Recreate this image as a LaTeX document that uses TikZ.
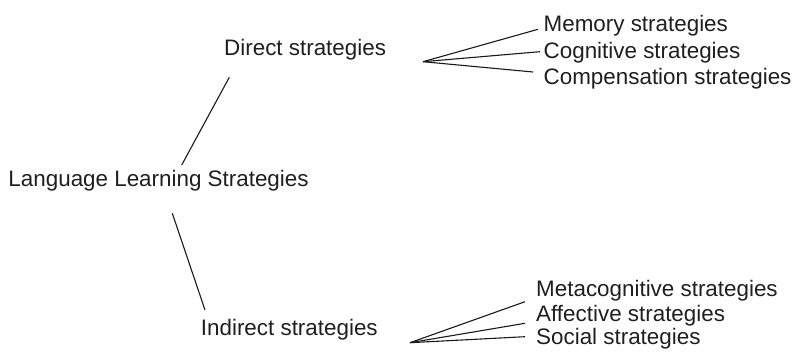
\documentclass[tikz,border=0pt]{standalone}
\usepackage{fontspec}
\setmainfont{Liberation Sans}
\usetikzlibrary{calc}
\begin{document}
\begin{tikzpicture}[x=1pt,y=-1pt,
  lbl/.style={anchor=base west, inner sep=0pt, font=\fontsize{22.4}{26}\selectfont, text=black!88},
  link/.style={line width=1.1pt, black!90}]
\useasboundingbox (0,0) rectangle (793,355);
\node[lbl] (root) at (8.3,186.7) {Language Learning Strategies};
\node[lbl] (direct) at (224,56) {Direct strategies};
\node[lbl] (indirect) at (200.7,336) {Indirect strategies};
\node[lbl] (mem) at (543.5,31.7) {Memory strategies};
\node[lbl] (cog) at (543.5,58.3) {Cognitive strategies};
\node[lbl] (comp) at (543.5,84.5) {Compensation strategies};
\node[lbl] (meta) at (536,296.5) {Metacognitive strategies};
\node[lbl] (aff) at (536,321.5) {Affective strategies};
\node[lbl] (soc) at (536,345) {Social strategies};
\coordinate (dfan) at ($(direct.base west)+(199,5.7)$);
\coordinate (ifan) at ($(indirect.base west)+(209.3,6.7)$);
\draw[link] ($(root.base west)+(173.4,-21.7)$) -- ($(direct.base west)+(5.3,21.3)$);
\draw[link] ($(root.base west)+(164,26.6)$) -- ($(indirect.base west)+(4.3,-26)$);
\draw[link] (dfan) -- ($(mem.base west)+(-5.5,-2.4)$);
\draw[link] (dfan) -- ($(cog.base west)+(-3.5,-6.6)$);
\draw[link] (dfan) -- ($(comp.base west)+(-10.5,-12.5)$);
\draw[link] (ifan) -- ($(meta.base west)+(-11,5.2)$);
\draw[link] (ifan) -- ($(aff.base west)+(-11,1.8)$);
\draw[link] (ifan) -- ($(soc.base west)+(-11,-8.3)$);
\end{tikzpicture}
\end{document}
